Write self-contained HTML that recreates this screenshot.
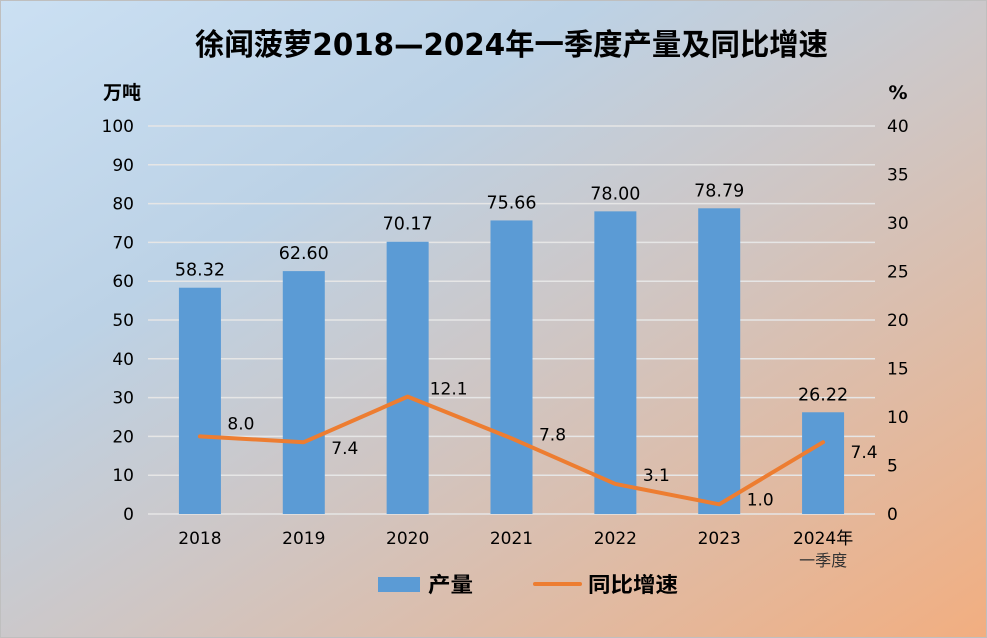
<!DOCTYPE html>
<html><head><meta charset="utf-8">
<style>
html,body{margin:0;padding:0;}
body{width:987px;height:638px;overflow:hidden;}
svg{display:block;font-family:"DejaVu Sans","Liberation Sans","Noto Sans CJK SC",sans-serif;}
</style></head>
<body>
<svg id="chart" width="987" height="638" viewBox="0 0 987 638">
<defs>
<linearGradient id="bg" x1="0" y1="0" x2="1" y2="1">
<stop offset="0" stop-color="#cbe0f3"/>
<stop offset="0.3" stop-color="#bcd2e6"/>
<stop offset="0.55" stop-color="#cfc6c4"/>
<stop offset="1" stop-color="#f2ae80"/>
</linearGradient>
</defs>
<rect x="0.5" y="0.5" width="986" height="637" fill="url(#bg)" stroke="#bfbfbf"/>
<text x="195" y="55" textLength="633" lengthAdjust="spacingAndGlyphs" font-size="30" font-weight="bold" fill="#000" font-family="'DejaVu Sans','WenQuanYi Zen Hei','Noto Sans CJK SC',sans-serif">徐闻菠萝2018—2024年一季度产量及同比增速</text>
<text x="122" y="99" text-anchor="middle" font-size="19" font-weight="bold" font-family="'Noto Sans CJK SC',sans-serif">万吨</text>
<text x="898" y="99" text-anchor="middle" font-size="19" font-weight="bold">%</text>
<g id="grid"></g><g id="bars"></g><g id="line"></g><g id="labels"></g>
<g>
<rect x="378" y="577" width="42" height="15" fill="#5b9bd5"/>
<text x="428" y="592" textLength="45" lengthAdjust="spacingAndGlyphs" font-size="21" font-weight="bold" font-family="'Noto Sans CJK SC',sans-serif">产量</text>
<line x1="535" y1="584" x2="580" y2="584" stroke="#ed7d31" stroke-width="4" stroke-linecap="round"/>
<text x="588" y="592" textLength="90" lengthAdjust="spacingAndGlyphs" font-size="21" font-weight="bold" font-family="'Noto Sans CJK SC',sans-serif">同比增速</text>
</g>
</svg>
<script>
const categories = ["2018","2019","2020","2021","2022","2023","2024年|一季度"];
const production = [58.32,62.60,70.17,75.66,78.00,78.79,26.22];
const growth = [8.0,7.4,12.1,7.8,3.1,1.0,7.4];
const leftTicks = [0,10,20,30,40,50,60,70,80,90,100];
const rightTicks = [0,5,10,15,20,25,30,35,40];
const lineLabelDy = [-13,6,-8,-4,-9,-5,10];

const NS="http://www.w3.org/2000/svg";
const X0=148,X1=875,Y0=514,Y1=126;
const step=(X1-X0)/categories.length;
const xc=i=>X0+step*(i+0.5);
const yL=v=>Y0-(v/100)*(Y0-Y1);
const yR=v=>Y0-(v/40)*(Y0-Y1);
function mk(tag,attrs,parent,txt){const e=document.createElementNS(NS,tag);for(const k in attrs)e.setAttribute(k,attrs[k]);if(txt!==undefined)e.textContent=txt;parent.appendChild(e);return e;}
const grid=document.getElementById('grid'),bars=document.getElementById('bars'),line=document.getElementById('line'),labels=document.getElementById('labels');
leftTicks.forEach(t=>{
  const l=mk('line',{x1:X0,x2:X1,y1:yL(t),y2:yL(t),stroke:'#e6e6e6','stroke-width':1.5},grid);
  
  
  const tx=mk('text',{x:134,y:yL(t)+6,'text-anchor':'end','font-size':17},grid,t);
  
  
});
rightTicks.forEach(t=>{
  const tx=mk('text',{x:887,y:yR(t)+6,'font-size':17},grid,t);
  
  
});
const bw=42;
categories.forEach((c,i)=>{
  const b=mk('rect',{x:xc(i)-bw/2,y:yL(production[i]),width:bw,height:Y0-yL(production[i]),fill:'#5b9bd5'},bars);
  
  
  const v=mk('text',{x:xc(i),y:yL(production[i])-12,'text-anchor':'middle','font-size':17.5},labels,production[i].toFixed(2));
  
  
  const parts=c.split('|');
  parts.forEach((p,j)=>{
    const t=mk('text',{x:xc(i),y:544+j*22,'text-anchor':'middle','font-size':j?16:17,fill:j?'#333':'#000'},labels,p);
    
    
  });
});
const pts=growth.map((g,i)=>xc(i)+','+yR(g)).join(' ');
const pl=mk('polyline',{points:pts,fill:'none',stroke:'#ed7d31','stroke-width':4,'stroke-linejoin':'round','stroke-linecap':'round'},line);


growth.forEach((g,i)=>{
  const t=mk('text',{x:xc(i)+41,y:yR(g)+lineLabelDy[i]+6,'text-anchor':'middle','font-size':17},labels,g.toFixed(1));
  
  
});
</script>
</body></html>
